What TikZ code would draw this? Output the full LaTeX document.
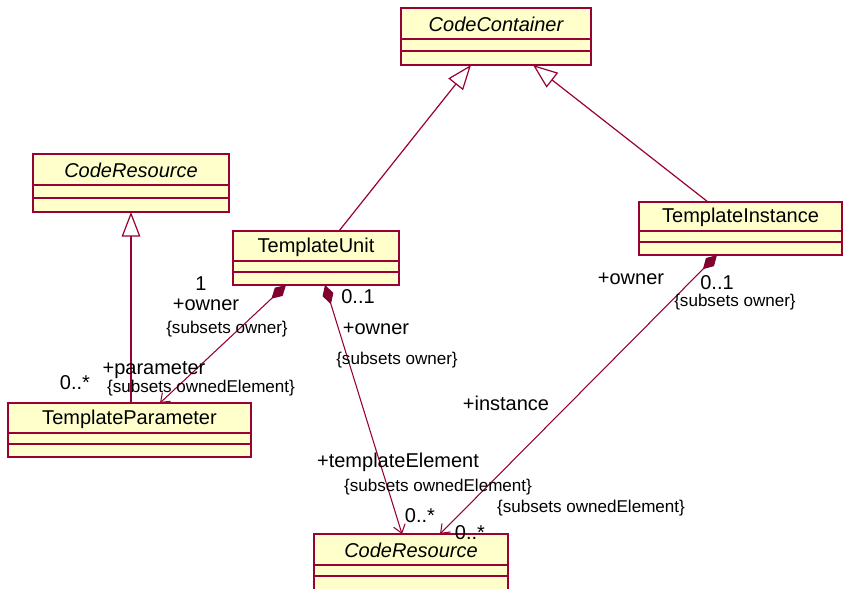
\documentclass[tikz,border=0pt]{standalone}
\usepackage{fontspec}
\setmainfont{Liberation Sans}
\usetikzlibrary{arrows.meta,calc}

\definecolor{umlred}{RGB}{153,0,51}
\definecolor{umlfill}{RGB}{255,255,204}
\definecolor{umldiamond}{RGB}{128,0,48}

\tikzset{
  classbox/.style={rectangle, draw=umlred, fill=umlfill, line width=1pt, inner sep=0pt, outer sep=0pt},
  classname/.style={font=\fontsize{15}{18}\selectfont, inner sep=0pt},
  abstractname/.style={font=\fontsize{15}{18}\selectfont\itshape, inner sep=0pt},
  compline/.style={draw=umlred, line width=1pt},
  generalization/.style={draw=umlred, line width=0.9pt,
    -{Triangle[open, length=18.5pt, width=14pt, fill=white]}},
  composition/.style={draw=umlred, line width=0.8pt,
    {Diamond[length=15pt, width=8.5pt, fill=umldiamond, color=umldiamond]}-{Straight Barb[length=6pt, width=9pt]}},
  rolelabel/.style={font=\fontsize{15}{18}\selectfont, inner sep=0pt},
  constraint/.style={font=\fontsize{12.8}{15}\selectfont, inner sep=0pt},
}

% class box: name, x, y, width, height, first rule, second rule, name style, title
\newcommand{\umlclass}[9]{%
  \node[classbox, anchor=north west, minimum width=#4*0.75pt, minimum height=#5*0.75pt] (#1) at (#2,#3) {};
  \node[#8] (#1-name) at ($(#1.north)+(0,#6/2+1)$) {#9};
  \draw[compline] ($(#1.north west)+(0,#6)$) -- ($(#1.north east)+(0,#6)$);
  \draw[compline] ($(#1.north west)+(0,#7)$) -- ($(#1.north east)+(0,#7)$);
}

\begin{document}
\begin{tikzpicture}[x=0.75pt, y=-0.75pt]
\useasboundingbox (0,0) rectangle (843,589);
\clip (0,0) rectangle (843,589);
\fill[white] (0,0) rectangle (843,589);

% classes
\umlclass{codeContainer}{401}{8}{190}{57}{31}{43}{abstractname}{CodeContainer}
\umlclass{codeResourceTop}{33}{154}{196}{58}{31}{44}{abstractname}{CodeResource}
\umlclass{templateUnit}{233}{231}{166}{54}{30}{41}{classname}{TemplateUnit}
\umlclass{templateParameter}{8}{403}{243}{54}{30}{41}{classname}{TemplateParameter}
\umlclass{templateInstance}{639}{202}{203}{53}{29}{40}{classname}{TemplateInstance}
\umlclass{codeResourceBottom}{314}{534}{194}{57}{31}{42}{abstractname}{CodeResource}

% generalizations
\draw[generalization] ($(templateParameter.north west)+(123,0)$) -- ($(codeResourceTop.south west)+(98,0)$);
\draw[generalization] ($(templateUnit.north west)+(106,0)$) -- ($(codeContainer.south west)+(70,0)$);
\draw[generalization] ($(templateInstance.north west)+(69,0)$) -- ($(codeContainer.south west)+(132,0)$);

% compositions
\draw[composition] ($(templateUnit.south west)+(53,0)$) -- ($(templateParameter.north west)+(152,0)$);
\draw[composition] ($(templateUnit.south west)+(92,0)$) -- ($(codeResourceBottom.north west)+(88,0)$);
\draw[composition] ($(templateInstance.south west)+(78,0)$) -- ($(codeResourceBottom.north west)+(126,0)$);

% association end labels: TemplateUnit - TemplateParameter
\node[rolelabel] (tuMult) at (201,284) {1};
\node[rolelabel] (tuOwner) at (206,305) {+owner};
\node[constraint] (tuOwnerSub) at (227,329) {\{subsets owner\}};
\node[rolelabel] (tpRole) at (154,370) {+parameter};
\node[constraint] (tpSub) at (201,388) {\{subsets ownedElement\}};
\node[rolelabel] (tpMult) at (75,383) {0..*};

% TemplateUnit - CodeResource
\node[rolelabel] (teMultOwner) at (358,297) {0..1};
\node[rolelabel] (teOwner) at (376,329) {+owner};
\node[constraint] (teOwnerSub) at (397,360) {\{subsets owner\}};
\node[rolelabel] (teRole) at (398,462) {+templateElement};
\node[constraint] (teSub) at (438,487) {\{subsets ownedElement\}};
\node[rolelabel] (teMult) at (420,516) {0..*};

% TemplateInstance - CodeResource
\node[rolelabel] (tiOwner) at (631,279) {+owner};
\node[rolelabel] (tiMultOwner) at (717,283) {0..1};
\node[constraint] (tiOwnerSub) at (735,302) {\{subsets owner\}};
\node[rolelabel] (tiRole) at (506,403) {+instance};
\node[constraint] (tiSub) at (591,508) {\{subsets ownedElement\}};
\node[rolelabel] (tiMult) at (470,533) {0..*};
\end{tikzpicture}
\end{document}
